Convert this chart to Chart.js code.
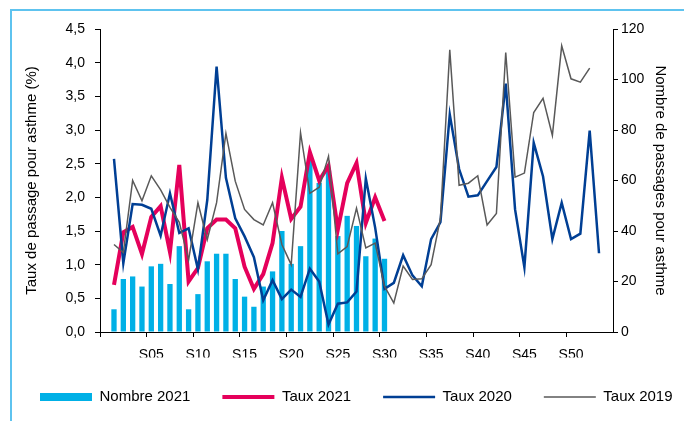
<!DOCTYPE html>
<html>
<head>
<meta charset="utf-8">
<script src="https://cdn.jsdelivr.net/npm/chart.js@4"></script>
<style>
  html, body { margin: 0; padding: 0; background: #fff; }
  #wrap { position: relative; width: 684px; height: 421px; overflow: hidden; }
  #frame { position: absolute; left: 10px; top: 9px; right: -10px; bottom: -10px; border: 2px solid #5ec3ef; }
  canvas { position: absolute; left: 0; top: 0; }
</style>
</head>
<body>
<div id="wrap">
  <div id="frame"></div>
  <canvas id="chart" width="684" height="421"></canvas>
</div>
<script>
// semaines : une case vide de chaque côté, comme sur l'original
const weeks = [''];
for (let w = 1; w <= 53; w++) weeks.push('S' + String(w).padStart(2, '0'));
weeks.push('');

// nombre de passages 2021 (S01-S30)
const nombre2021 = [9, 21, 22, 18, 26, 27, 19, 34, 9, 15, 28, 31, 31, 21, 14, 10, 18, 24, 40, 27,
  34, 68, 59, 64, 38, 46, 42, 30, 37, 29];

// taux de passage (%)
const taux2021 = [0.70, 1.48, 1.56, 1.16, 1.71, 1.87, 1.19, 2.48, 0.75, 0.95, 1.54, 1.67, 1.67, 1.54, 0.97,
  0.64, 0.86, 1.32, 2.29, 1.68, 1.86, 2.67, 2.25, 2.47, 1.52, 2.21, 2.51, 1.62, 2.00, 1.65];

const taux2020 = [2.57, 1.02, 1.90, 1.89, 1.83, 1.43, 2.06, 1.47, 1.54, 0.93, 1.96, 3.94, 2.29, 1.69, 1.42,
  1.11, 0.47, 0.77, 0.49, 0.63, 0.52, 0.94, 0.75, 0.11, 0.42, 0.44, 0.60, 2.28, 1.55, 0.64,
  0.73, 1.14, 0.84, 0.68, 1.38, 1.63, 3.23, 2.42, 2.01, 2.03, 2.24, 2.45, 3.69, 1.82, 0.96,
  2.81, 2.31, 1.38, 1.92, 1.38, 1.46, 2.99, 1.17];

const taux2019 = [1.30, 1.18, 2.25, 1.95, 2.32, 2.11, 1.85, 1.63, 1.07, 1.92, 1.37, 1.92, 2.95, 2.24, 1.82,
  1.67, 1.59, 1.92, 1.30, 1.00, 2.96, 2.06, 2.15, 2.61, 1.16, 1.27, 1.84, 1.25, 1.32, 0.68,
  0.43, 0.98, 0.78, 0.79, 1.00, 1.69, 4.19, 2.18, 2.21, 2.32, 1.59, 1.76, 4.15, 2.30, 2.36,
  3.26, 3.47, 2.92, 4.25, 3.76, 3.71, 3.92];

const leftTicks = [0, 0.5, 1, 1.5, 2, 2.5, 3, 3.5, 4, 4.5];
const rightTicks = [0, 20, 40, 60, 80, 100, 120];

// aligne une série sur les semaines (case vide en tête)
const pad = arr => weeks.map((_, i) => (i >= 1 && i <= arr.length ? arr[i - 1] : null));

const FONT = '"Liberation Sans", Arial, sans-serif';
const tickFont = { family: FONT, size: 14 };
const labelFont = { family: FONT, size: 15 };

// la légende tient sur une ligne : on lui laisse un peu plus de place avant le retour à la ligne
const wideLegend = {
  id: 'wideLegend',
  afterInit(chart) {
    const lg = chart.legend;
    const fit = lg.fit.bind(lg);
    const draw = lg.draw.bind(lg);
    lg.fit = function () { this.maxWidth += 60; fit(); };
    lg.draw = function () {
      const r = this.right;
      this.right = r + 60;
      draw();
      this.right = r;
    };
  }
};

new Chart(document.getElementById('chart'), {
  plugins: [wideLegend],
  data: {
    labels: weeks,
    datasets: [
      {
        type: 'bar', label: 'Nombre 2021', data: pad(nombre2021), yAxisID: 'y1',
        backgroundColor: '#00b0e6', borderWidth: 0,
        barPercentage: 0.57, categoryPercentage: 1, order: 4
      },
      {
        type: 'line', label: 'Taux 2021', data: pad(taux2021), yAxisID: 'y',
        borderColor: '#e5005b', borderWidth: 4, pointRadius: 0, tension: 0, order: 3
      },
      {
        type: 'line', label: 'Taux 2020', data: pad(taux2020), yAxisID: 'y',
        borderColor: '#003f94', borderWidth: 2.5, pointRadius: 0, tension: 0, order: 2
      },
      {
        type: 'line', label: 'Taux 2019', data: pad(taux2019), yAxisID: 'y',
        borderColor: '#595959', borderWidth: 1.5, pointRadius: 0, tension: 0, order: 1
      }
    ]
  },
  options: {
    responsive: false,
    animation: false,
    layout: { padding: { left: 8, top: 29, right: 0, bottom: 6.5 } },
    plugins: {
      tooltip: { enabled: false },
      legend: {
        position: 'bottom',
        align: 'start',
        labels: {
          usePointStyle: true,
          pointStyleWidth: 52,
          boxHeight: 8,
          padding: 32,
          color: '#000',
          font: labelFont,
          sort: (a, b) => a.datasetIndex - b.datasetIndex,
          generateLabels: chart => chart.data.datasets.map((ds, i) => {
            const isBar = ds.type === 'bar';
            const col = isBar ? ds.backgroundColor : ds.borderColor;
            return {
              text: ds.label, datasetIndex: i, hidden: false,
              fillStyle: col, strokeStyle: col,
              lineWidth: isBar ? 0 : ds.borderWidth,
              pointStyle: isBar ? 'rect' : 'line',
              fontColor: '#000'
            };
          })
        }
      }
    },
    scales: {
      x: {
        offset: true,
        grid: {
          offset: true, drawOnChartArea: false, tickLength: 5, lineWidth: 1,
          color: c => (c.index % 5 === 0 ? '#000' : 'rgba(0,0,0,0)')
        },
        border: { color: '#000', width: 1 },
        ticks: {
          autoSkip: false, maxRotation: 0, minRotation: 0, padding: 10,
          color: '#000', font: tickFont,
          callback: (v, i) => (i > 0 && i % 5 === 0 ? weeks[i] : '')
        },
        afterFit: s => { s.height = 25.5; }
      },
      y: {
        position: 'left', min: 0, max: 4.5,
        afterBuildTicks: s => { s.ticks = leftTicks.map(v => ({ value: v })); },
        grid: { drawOnChartArea: false, tickLength: 5, color: '#000' },
        border: { color: '#000', width: 1 },
        ticks: {
          padding: 10, color: '#000', font: tickFont,
          callback: v => v.toFixed(1).replace('.', ',')
        },
        title: {
          display: true, text: 'Taux de passage pour asthme (%)',
          color: '#000', font: labelFont, padding: { top: 15, bottom: 0 }
        },
        afterFit: s => { s.width = 92; }
      },
      y1: {
        position: 'right', min: 0, max: 120,
        afterBuildTicks: s => { s.ticks = rightTicks.map(v => ({ value: v })); },
        grid: { drawOnChartArea: false, tickLength: 5, color: '#000' },
        border: { color: '#000', width: 1 },
        ticks: { padding: 3, color: '#000', font: tickFont },
        title: {
          display: true, text: 'Nombre de passages pour asthme',
          color: '#000', font: labelFont, padding: { top: 15, bottom: 0 }
        },
        afterFit: s => { s.width = 71; }
      }
    }
  }
});
</script>
</body>
</html>
